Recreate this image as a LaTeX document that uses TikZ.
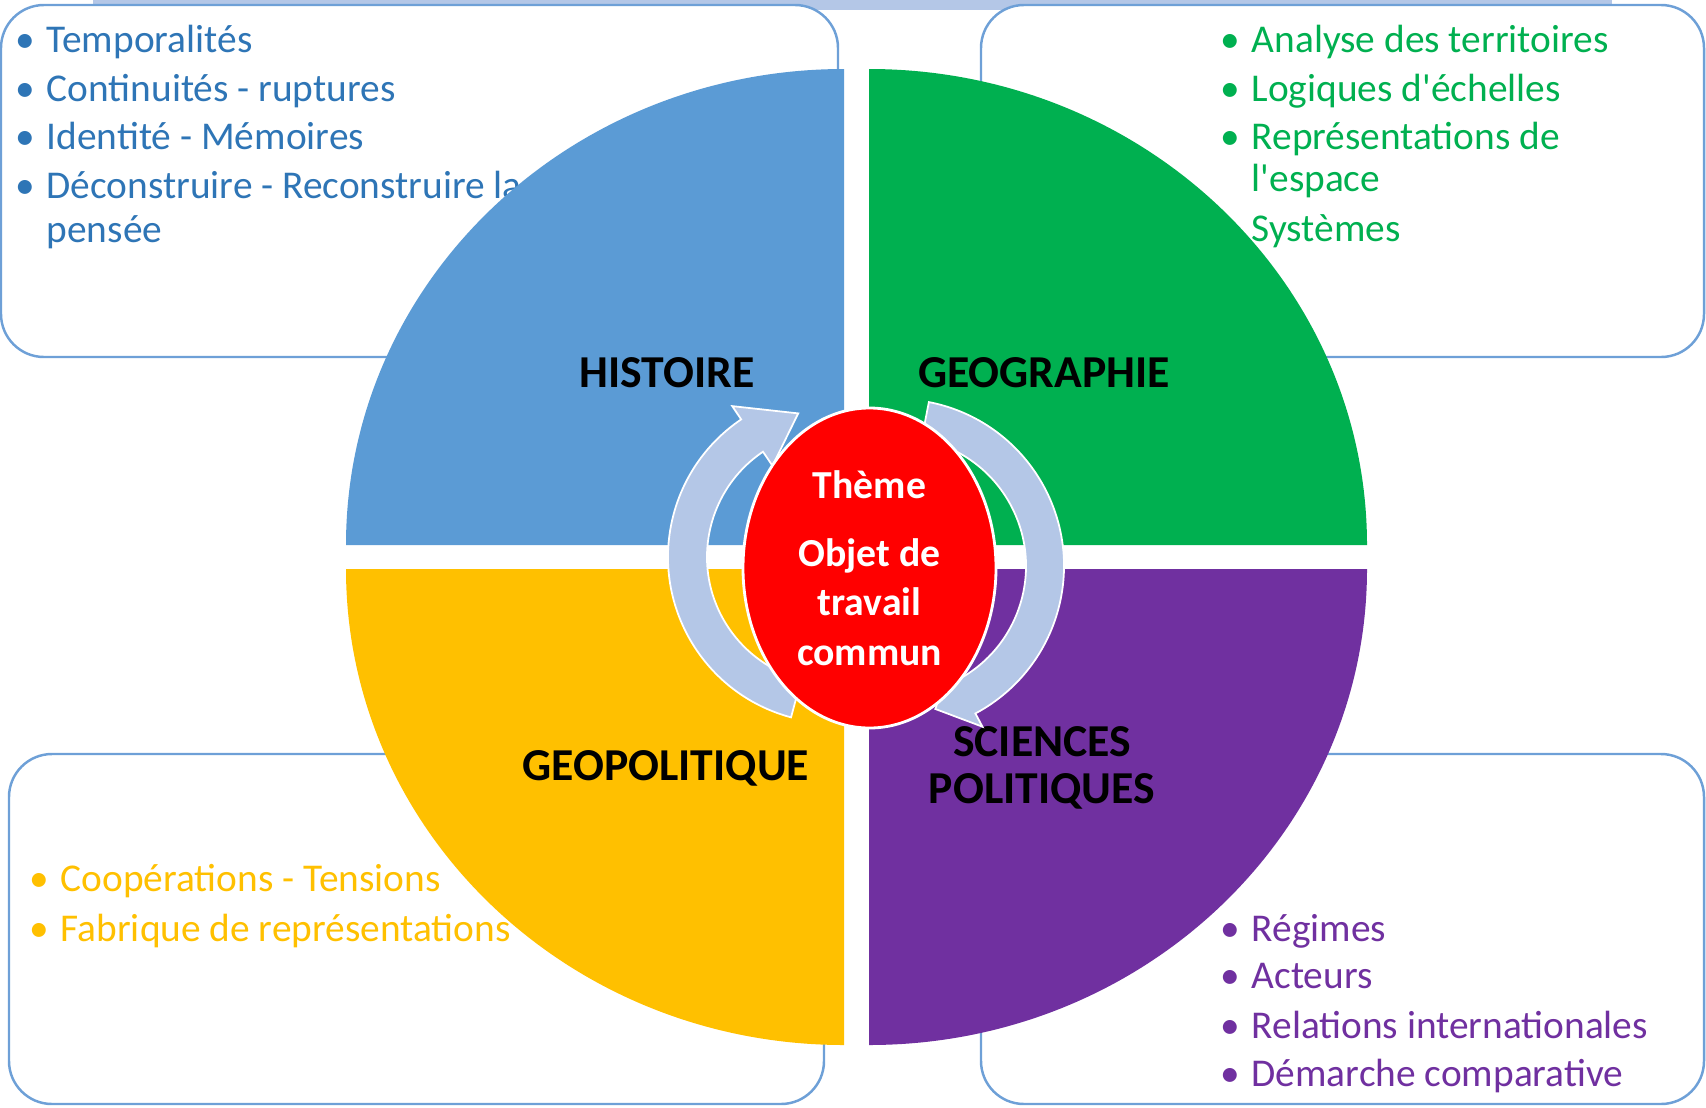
\documentclass[tikz,border=0pt]{standalone}
\usepackage{fontspec}
\setmainfont{Carlito}
\usetikzlibrary{shapes.geometric}

\definecolor{histblue}{RGB}{91,155,213}
\definecolor{histtext}{RGB}{46,117,182}
\definecolor{geogreen}{RGB}{0,176,80}
\definecolor{geoyellow}{RGB}{255,192,0}
\definecolor{polpurple}{RGB}{112,48,160}
\definecolor{cyclefill}{RGB}{180,199,231}
\definecolor{boxline}{RGB}{110,160,215}

\newcommand{\puce}{\llap{\makebox[0.42cm]{•}}}

\begin{document}
\begin{tikzpicture}

\tikzset{
  listbox/.style = {draw=boxline, line width=0.7pt, fill=white, rounded corners=0.43cm},
  listline/.style = {anchor=base west, inner sep=0pt, font=\fontsize{11.2}{13}\selectfont},
  fieldname/.style = {align=center, inner sep=0pt, font=\fontsize{13}{13.4}\selectfont\bfseries},
  cyclearrow/.style = {fill=cyclefill, draw=white, line width=0.5pt},
}

\useasboundingbox (0,0) rectangle (17.06,11.07);

% bandeau + cadres
\fill[cyclefill] (0.93,10.97) rectangle (16.12,11.07);
\draw[listbox] (0.01,11.02) rectangle (8.38,7.50);
\draw[listbox] (9.81,11.02) rectangle (17.04,7.50);
\draw[listbox] (0.09,3.53) rectangle (8.24,0.03);
\draw[listbox] (9.81,3.53) rectangle (17.04,0.03);

\node[listline, histtext] (hist1) at (0.46,10.55) {\puce Temporalités};
\node[listline, histtext] (hist2) at (0.46,10.06) {\puce Continuités - ruptures};
\node[listline, histtext] (hist3) at (0.46,9.58) {\puce Identité - Mémoires};
\node[listline, histtext] (hist4) at (0.46,9.09) {\puce Déconstruire - Reconstruire la};
\node[listline, histtext] (hist5) at (0.46,8.65) {pensée};

\node[listline, geogreen] (geo1) at (12.51,10.55) {\puce Analyse des territoires};
\node[listline, geogreen] (geo2) at (12.51,10.06) {\puce Logiques d\textquotesingle échelles};
\node[listline, geogreen] (geo3) at (12.51,9.58) {\puce Représentations de};
\node[listline, geogreen] (geo4) at (12.51,9.16) {l\textquotesingle espace};
\node[listline, geogreen] (geo5) at (12.51,8.66) {\puce Systèmes};

\node[listline, geoyellow] (gpol1) at (0.60,2.16) {\puce Coopérations - Tensions};
\node[listline, geoyellow] (gpol2) at (0.60,1.66) {\puce Fabrique de représentations};

\node[listline, polpurple] (scpo1) at (12.51,1.66) {\puce Régimes};
\node[listline, polpurple] (scpo2) at (12.51,1.19) {\puce Acteurs};
\node[listline, polpurple] (scpo3) at (12.51,0.69) {\puce Relations internationales};
\node[listline, polpurple] (scpo4) at (12.51,0.21) {\puce Démarche comparative};

% quarts de disque
\fill[histblue] (8.44,5.62) -- (3.46,5.62) arc[start angle=180, end angle=90, x radius=4.98cm, y radius=4.76cm] -- cycle;
\fill[geogreen] (8.69,5.62) -- (8.69,10.38) arc[start angle=90, end angle=0, x radius=4.98cm, y radius=4.76cm] -- cycle;
\fill[geoyellow] (8.44,5.38) -- (8.44,0.62) arc[start angle=270, end angle=180, x radius=4.98cm, y radius=4.76cm] -- cycle;
\fill[polpurple] (8.69,5.38) -- (13.67,5.38) arc[start angle=0, end angle=-90, x radius=4.98cm, y radius=4.76cm] -- cycle;

\node[fieldname] (histoire) at (6.67,7.34) {HISTOIRE};
\node[fieldname] (geographie) at (10.44,7.34) {GEOGRAPHIE};
\node[fieldname] (geopolitique) at (6.66,3.39) {GEOPOLITIQUE};
\node[fieldname] (sciencespo) at (10.42,3.39) {SCIENCES\\POLITIQUES};

% fleches circulaires
\path[cyclearrow, shift={(8.34,5.50)}] (255:1.66) arc[start angle=255, end angle=124, radius=1.66cm]
  -- (124:1.82) -- (104:1.48) -- (124:1.10) -- (124:1.27)
  arc[start angle=124, end angle=255, radius=1.27cm] -- cycle;
\path[cyclearrow, shift={(8.97,5.41)}] (79:1.67) arc[start angle=79, end angle=-62, radius=1.67cm]
  -- (-62:1.82) -- (-75:1.48) -- (-62:1.14) -- (-62:1.29)
  arc[start angle=-62, end angle=79, radius=1.29cm] -- cycle;

\node[ellipse, fill=red, draw=white, line width=0.8pt, minimum width=2.53cm, minimum height=3.2cm,
  inner sep=0pt, text=white, align=center, font=\fontsize{11.3}{14}\selectfont\bfseries]
  (theme) at (8.695,5.39) {Thème\\[5.4pt]Objet de\\travail\\commun};

\end{tikzpicture}
\end{document}
